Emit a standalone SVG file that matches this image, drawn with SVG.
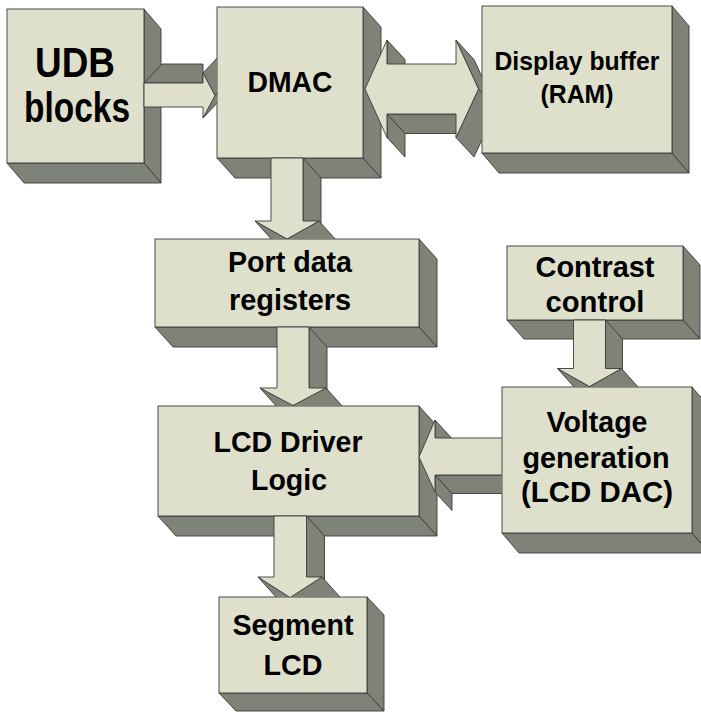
<svg xmlns="http://www.w3.org/2000/svg" width="701" height="712" viewBox="0 0 701 712">
<style>
.face{fill:#DEE0CC;stroke:#3a3a3a;stroke-width:0.9}
.side{fill:#7F8276;stroke:#3a3a3a;stroke-width:0.9;stroke-linejoin:round}
.lbl{font-family:"Liberation Sans",Arial,sans-serif;font-weight:bold;fill:#000;text-anchor:middle}
</style>
<defs>
<clipPath id="cA"><rect x="0" y="0" width="217" height="712"/></clipPath>
<clipPath id="cB"><rect x="0" y="0" width="701" height="239"/></clipPath>
<clipPath id="cG"><rect x="0" y="0" width="482" height="712"/></clipPath>
<clipPath id="cC"><rect x="0" y="0" width="701" height="406"/></clipPath>
<clipPath id="cD"><rect x="0" y="0" width="701" height="597"/></clipPath>
<clipPath id="cE"><rect x="0" y="0" width="701" height="387"/></clipPath>
<clipPath id="cF"><rect x="0" y="0" width="502" height="712"/></clipPath>
</defs>
<rect width="701" height="712" fill="#fff"/>

<g id="udb">
<polygon class="side" points="144,9 161,29 161,183 144,163"/>
<polygon class="side" points="7,163 144,163 161,183 24,183"/>
<rect class="face" x="7" y="9" width="137" height="154"/>
<text class="lbl" x="75" y="77" font-size="42" textLength="80" lengthAdjust="spacingAndGlyphs">UDB</text>
<text class="lbl" x="77" y="122" font-size="42" textLength="106" lengthAdjust="spacingAndGlyphs">blocks</text>
</g>

<g id="dmac">
<polygon class="side" points="363,7 381,27 381,178 363,158"/>
<polygon class="side" points="217,158 363,158 381,178 235,178"/>
<rect class="face" x="217" y="7" width="146" height="151"/>
<text class="lbl" x="290" y="92" font-size="30" textLength="85" lengthAdjust="spacingAndGlyphs">DMAC</text>
</g>

<g id="display">
<polygon class="side" points="672,6 689,26 689,173 672,153"/>
<polygon class="side" points="482,153 672,153 689,173 499,173"/>
<rect class="face" x="482" y="6" width="190" height="147"/>
<text class="lbl" x="577" y="70" font-size="26" textLength="165" lengthAdjust="spacingAndGlyphs">Display buffer</text>
<text class="lbl" x="577" y="103" font-size="26" textLength="73" lengthAdjust="spacingAndGlyphs">(RAM)</text>
</g>

<g id="port">
<polygon class="side" points="419,239 437,259 437,347 419,327"/>
<polygon class="side" points="155,327 419,327 437,347 173,347"/>
<rect class="face" x="155" y="239" width="264" height="88"/>
<text class="lbl" x="290" y="272" font-size="29" textLength="124" lengthAdjust="spacingAndGlyphs">Port data</text>
<text class="lbl" x="290" y="310" font-size="29" textLength="122" lengthAdjust="spacingAndGlyphs">registers</text>
</g>

<g id="lcddriver">
<polygon class="side" points="419,406 437,426 437,536 419,516"/>
<polygon class="side" points="158,516 419,516 437,536 176,536"/>
<rect class="face" x="158" y="406" width="261" height="110"/>
<text class="lbl" x="288" y="452" font-size="29" textLength="149" lengthAdjust="spacingAndGlyphs">LCD Driver</text>
<text class="lbl" x="289" y="490" font-size="29" textLength="76" lengthAdjust="spacingAndGlyphs">Logic</text>
</g>

<g id="segment">
<polygon class="side" points="367,597 384,615 384,711 367,693"/>
<polygon class="side" points="219,693 367,693 384,711 236,711"/>
<rect class="face" x="219" y="597" width="148" height="96"/>
<text class="lbl" x="293" y="635" font-size="30" textLength="121" lengthAdjust="spacingAndGlyphs">Segment</text>
<text class="lbl" x="293" y="675" font-size="30" textLength="59" lengthAdjust="spacingAndGlyphs">LCD</text>
</g>

<g id="contrast">
<polygon class="side" points="683,246 700,265 700,339 683,320"/>
<polygon class="side" points="507,320 683,320 700,339 524,339"/>
<rect class="face" x="507" y="246" width="176" height="74"/>
<text class="lbl" x="595" y="277" font-size="30" textLength="119" lengthAdjust="spacingAndGlyphs">Contrast</text>
<text class="lbl" x="595" y="312" font-size="30" textLength="99" lengthAdjust="spacingAndGlyphs">control</text>
</g>

<g id="voltage">
<polygon class="side" points="692,387 709,407 709,553 692,533"/>
<polygon class="side" points="502,533 692,533 709,553 519,553"/>
<rect class="face" x="502" y="387" width="190" height="146"/>
<text class="lbl" x="597" y="432" font-size="30" textLength="101" lengthAdjust="spacingAndGlyphs">Voltage</text>
<text class="lbl" x="596" y="468" font-size="30" textLength="147" lengthAdjust="spacingAndGlyphs">generation</text>
<text class="lbl" x="597" y="502" font-size="30" textLength="152" lengthAdjust="spacingAndGlyphs">(LCD DAC)</text>
</g>

<g id="connectors">
<g id="udb-dmac" clip-path="url(#cA)">
<polygon class="side" points="144,83 203,83 203,64 162,64"/>
<polygon class="side" points="203,73 215,95.5 233,76.5 221,54"/>
<polygon class="side" points="215,95.5 203,118 221,99 233,76.5"/>
<polygon class="face" points="144,83 203,83 203,73 215,95.5 203,118 203,107 144,107"/>
</g>
<g id="dmac-port" clip-path="url(#cB)">
<polygon class="side" points="303,158 321,178 321,241 303,221"/>
<polygon class="side" points="319,221 337,241 305,259 287,239"/>
<polygon class="side" points="255,221 287,239 305,259 273,241"/>
<polygon class="face" points="271,158 303,158 303,221 319,221 287,239 255,221 271,221"/>
</g>
<g id="dmac-display" clip-path="url(#cG)">
<polygon class="side" points="387,40 405,59.5 405,83.5 387,64"/>
<polygon class="side" points="387,114 456,114 474,133.5 405,133.5"/>
<polygon class="side" points="387,114 405,133.5 405,157 387,137.5"/>
<polygon class="side" points="456,40 474,59.5 496.5,108.5 478.5,89"/>
<polygon class="side" points="478.5,89 496.5,108.5 474,157 456,137.5"/>
<polygon class="face" points="365,89 387,40 387,64 456,64 456,40 478.5,89 456,137.5 456,114 387,114 387,137.5"/>
</g>
<g id="port-lcd" clip-path="url(#cC)">
<polygon class="side" points="309,327 327,347 327,408 309,388"/>
<polygon class="side" points="326,388 344,408 311,425 293,405"/>
<polygon class="side" points="260,388 293,405 311,425 278,408"/>
<polygon class="face" points="277,327 309,327 309,388 326,388 293,405.5 260,388 277,388"/>
</g>
<g id="contrast-voltage" clip-path="url(#cE)">
<polygon class="side" points="605.5,320 622.5,339 622.5,387.5 605.5,368.5"/>
<polygon class="side" points="621.5,368.5 638.5,387.5 606.5,405.5 589.5,386.5"/>
<polygon class="side" points="557.5,368.5 589.5,386.5 606.5,405.5 574.5,387.5"/>
<polygon class="face" points="573.5,320 605.5,320 605.5,368.5 621.5,368.5 589.5,386.5 557.5,368.5 573.5,368.5"/>
</g>
<g id="voltage-lcd" clip-path="url(#cF)">
<polygon class="side" points="435,420 452,438.5 452,456.5 435,438"/>
<polygon class="side" points="435,475 502,475 519,493.5 452,493.5"/>
<polygon class="side" points="435,475 452,493.5 452,510.5 435,492"/>
<polygon class="face" points="502,438 435,438 435,420 419,457 435,492 435,475 502,475"/>
</g>
<g id="lcd-segment" clip-path="url(#cD)">
<polygon class="side" points="306.5,516 324.5,536 324.5,597 306.5,577"/>
<polygon class="side" points="322,577 340,597 308,617 290,597"/>
<polygon class="side" points="258,577 290,597 308,617 276,597"/>
<polygon class="face" points="274,516 306.5,516 306.5,577 322,577 290,597.5 258,577 274,577"/>
</g>
</g>
</svg>
